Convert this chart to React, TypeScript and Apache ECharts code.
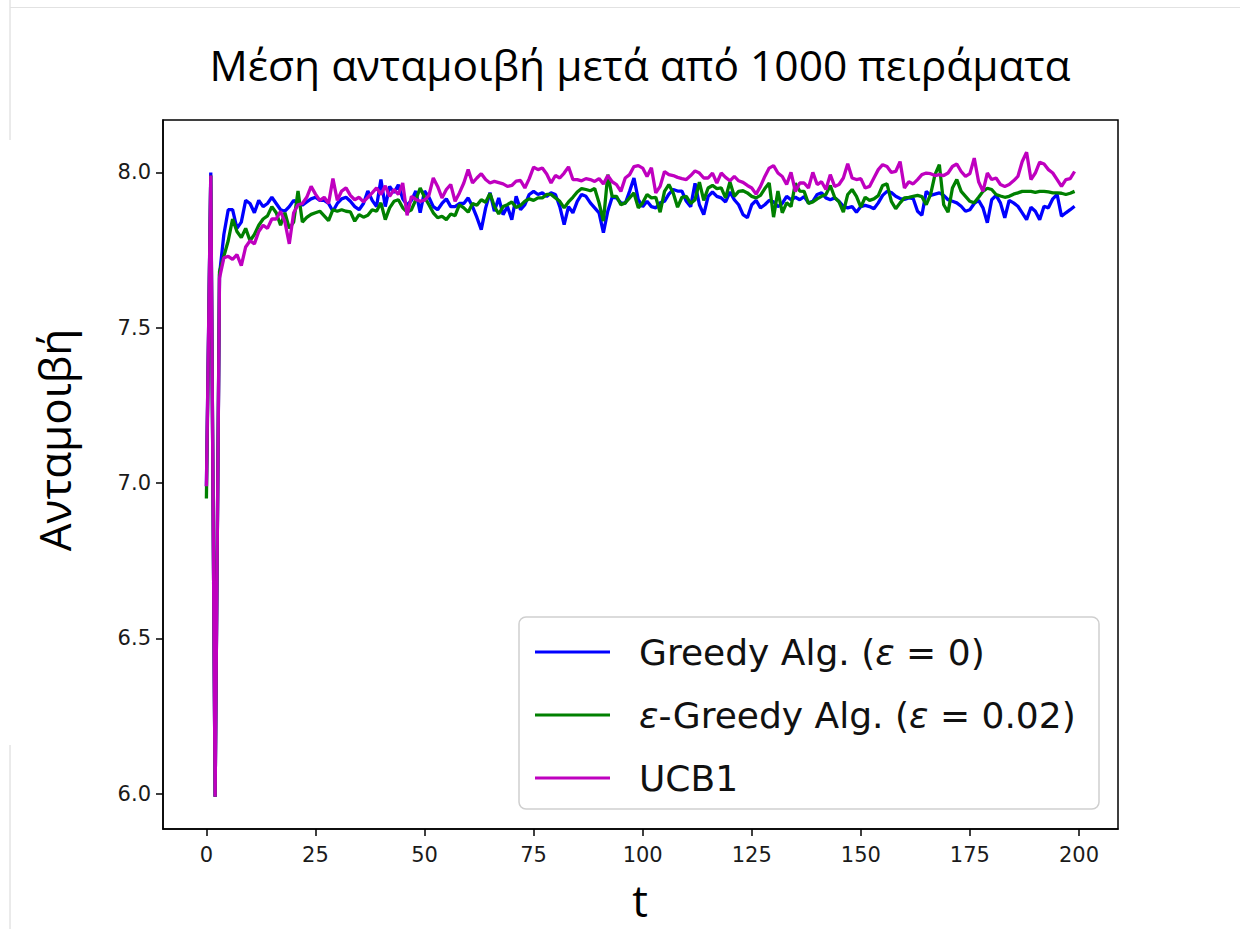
import React, { useEffect, useRef } from "react";
import * as echarts from "echarts";

// Mean reward per step (t = 0..199), averaged over 1000 runs
const greedy: number[] = [
  6.99, 8.0, 5.99, 7.67,
  7.80, 7.88, 7.88, 7.82, 7.84, 7.91, 7.90, 7.87, 7.91, 7.89, 7.90, 7.92, 7.90, 7.88, 7.875, 7.89,
  7.91, 7.90, 7.895, 7.905, 7.915, 7.92, 7.91, 7.91, 7.90, 7.875, 7.90, 7.915, 7.92,
  7.907, 7.89, 7.88, 7.90, 7.94, 7.91, 7.89, 7.977, 7.89, 7.955, 7.935, 7.96, 7.915, 7.895, 7.91,
  7.94, 7.87, 7.94, 7.92, 7.89, 7.88, 7.90, 7.915, 7.89, 7.89, 7.90, 7.90, 7.918, 7.89, 7.855,
  7.816, 7.885, 7.935,
  7.875, 7.918, 7.864, 7.89, 7.848, 7.923, 7.88, 7.896, 7.929, 7.939, 7.929, 7.934, 7.923, 7.934,
  7.929, 7.89, 7.832, 7.89, 7.87, 7.907, 7.929, 7.923, 7.902, 7.886, 7.87, 7.806, 7.875, 7.92,
  7.918, 7.902, 7.90, 7.939, 7.982,
  7.912, 7.89, 7.907, 7.89, 7.886, 7.902, 7.907, 7.93, 7.945, 7.94, 7.94, 7.907, 7.89, 7.965,
  7.896, 7.864, 7.923, 7.937, 7.923, 7.918, 7.905, 7.937, 7.912, 7.896, 7.864, 7.854, 7.896, 7.91,
  7.886, 7.896, 7.91, 7.905, 7.89,
  7.90, 7.923, 7.912, 7.92, 7.912, 7.922, 7.902, 7.907, 7.929, 7.934, 7.918, 7.912, 7.918, 7.907,
  7.891, 7.886, 7.89, 7.872, 7.89, 7.894, 7.89, 7.883, 7.902, 7.926, 7.939, 7.935, 7.923, 7.916,
  7.913, 7.918, 7.916, 7.875, 7.862,
  7.939, 7.926, 7.93, 7.934, 7.926, 7.912, 7.907, 7.902, 7.891, 7.875, 7.88, 7.90, 7.91, 7.886,
  7.838, 7.912, 7.926, 7.902, 7.854, 7.91, 7.902, 7.891, 7.87, 7.848, 7.888, 7.875, 7.848, 7.891,
  7.886, 7.915, 7.929, 7.859, 7.87, 7.88, 7.891,
];

const epsGreedy: number[] = [
  6.95, 7.99, 5.99, 7.68,
  7.73, 7.78, 7.85, 7.81, 7.79, 7.82, 7.78, 7.80, 7.83, 7.85, 7.86, 7.89, 7.87, 7.83, 7.87, 7.82,
  7.84, 7.94, 7.84, 7.855, 7.865, 7.87, 7.875, 7.86, 7.845, 7.88, 7.875, 7.88, 7.875,
  7.873, 7.843, 7.864, 7.856, 7.862, 7.88, 7.875, 7.902, 7.848, 7.886, 7.907, 7.912, 7.886, 7.872,
  7.88, 7.912, 7.95, 7.92, 7.896, 7.87, 7.854, 7.859, 7.848, 7.866, 7.861, 7.896, 7.886, 7.872,
  7.90, 7.894, 7.912, 7.904, 7.932,
  7.891, 7.866, 7.89, 7.896, 7.905, 7.887, 7.894, 7.907, 7.915, 7.91, 7.918, 7.918, 7.929, 7.929,
  7.918, 7.907, 7.886, 7.905, 7.92, 7.937, 7.948, 7.945, 7.941, 7.948, 7.902, 7.843, 7.993, 7.923,
  7.923, 7.896, 7.902, 7.918, 7.934,
  7.886, 7.902, 7.929, 7.918, 7.92, 7.872, 7.939, 7.961, 7.934, 7.888, 7.92, 7.923, 7.90, 7.912,
  7.969, 7.91, 7.95, 7.958, 7.948, 7.95, 7.918, 7.969, 7.923, 7.939, 7.941, 7.934, 7.923, 7.918,
  7.926, 7.948, 7.966, 7.856, 7.94,
  7.87, 7.902, 7.89, 7.965, 7.94, 7.939, 7.90, 7.905, 7.915, 7.923, 7.929, 7.958, 7.92, 7.905,
  7.872, 7.929, 7.945, 7.923, 7.888, 7.92, 7.91, 7.915, 7.925, 7.958, 7.963, 7.907, 7.883, 7.902,
  7.918, 7.92, 7.923, 7.926, 7.922,
  7.896, 7.929, 7.993, 8.025, 7.896, 7.872, 7.95, 7.977, 7.939, 7.923, 7.907, 7.902, 7.92, 7.939,
  7.949, 7.945, 7.929, 7.924, 7.92, 7.923, 7.93, 7.934, 7.939, 7.939, 7.939, 7.936, 7.939, 7.939,
  7.937, 7.934, 7.934, 7.933, 7.929, 7.933, 7.939,
];

const ucb1: number[] = [
  6.99, 7.99, 5.99, 7.66,
  7.725, 7.73, 7.72, 7.735, 7.70, 7.76, 7.78, 7.77, 7.81, 7.83, 7.82, 7.85, 7.85, 7.875, 7.84, 7.77,
  7.87, 7.896, 7.90, 7.92, 7.955, 7.93, 7.91, 7.92, 7.90, 7.98, 7.91, 7.94, 7.95,
  7.926, 7.912, 7.92, 7.905, 7.92, 7.934, 7.95, 7.929, 7.957, 7.923, 7.945, 7.929, 7.966, 7.862,
  7.923, 7.913, 7.907, 7.911, 7.926, 7.982, 7.955, 7.918, 7.945, 7.961, 7.907, 7.934, 7.966, 8.009,
  7.966, 7.982, 7.996, 7.977, 7.966,
  7.971, 7.967, 7.963, 7.955, 7.958, 7.972, 7.974, 7.95, 7.98, 8.017, 8.009, 8.014, 7.995, 7.966,
  7.99, 7.982, 7.998, 8.018, 7.977, 7.977, 7.973, 7.98, 7.977, 7.971, 7.98, 7.963, 7.99, 7.97,
  7.961, 7.939, 7.982, 7.993, 8.019,
  8.022, 8.014, 7.987, 8.015, 7.934, 7.955, 8.003, 7.993, 7.99, 7.984, 7.98, 7.977, 7.99, 8.005,
  7.998, 7.982, 7.982, 7.998, 7.966, 7.998, 7.984, 7.973, 7.987, 7.973, 7.968, 7.958, 7.95, 7.93,
  7.955, 7.987, 8.014, 8.022, 7.998,
  7.987, 7.961, 8.0, 7.939, 7.966, 7.966, 7.95, 8.0, 7.961, 7.97, 7.945, 7.993, 7.955, 7.961,
  7.982, 8.028, 7.982, 7.977, 7.98, 7.95, 7.955, 7.982, 8.009, 8.025, 8.019, 8.0, 8.003, 8.035,
  7.95, 7.97, 7.963, 7.977, 7.993,
  7.998, 7.996, 7.99, 7.993, 7.99, 7.998, 8.019, 8.027, 8.003, 7.987, 7.996, 8.046, 7.97, 7.939,
  7.998, 7.977, 7.982, 7.961, 7.955, 7.961, 7.973, 7.987, 8.035, 8.065, 7.977, 7.998, 8.033, 8.027,
  8.009, 7.998, 7.977, 7.955, 7.977, 7.98, 8.003,
];

const seriesNames = ["Greedy Alg. (ε = 0)", "ε-Greedy Alg. (ε = 0.02)", "UCB1"];
const seriesColors = ["#0000ff", "#008000", "#bf00bf"];
const xTicks = [0, 25, 50, 75, 100, 125, 150, 175, 200];
const yTicks = [6.0, 6.5, 7.0, 7.5, 8.0];

const titleText = "Μέση ανταμοιβή μετά από 1000 πειράματα";
const xName = "t";
const yName = "Ανταμοιβή";

// Legend labels with the epsilon set in italic, mathtext style
const legendRich: Record<string, string> = {
  [seriesNames[0]]: "{n|Greedy Alg. (}{i|ε}{n| = 0)}",
  [seriesNames[1]]: "{i|ε}{n|-Greedy Alg. (}{i|ε}{n| = 0.02)}",
  [seriesNames[2]]: "{n|UCB1}",
};

function toPairs(values: number[]): [number, number][] {
  return values.map((v, i) => [i, v]);
}

export default function App() {
  const ref = useRef<HTMLDivElement>(null);

  useEffect(() => {
    if (!ref.current) return;
    const chart = echarts.init(ref.current, undefined, { renderer: "svg" });

    const all = [...greedy, ...epsGreedy, ...ucb1];
    const dMin = Math.min(...all);
    const dMax = Math.max(...all);
    const pad = (dMax - dMin) * 0.05;
    const n = greedy.length;
    const xPad = (n - 1) * 0.05;

    const tickFont = { fontFamily: "DejaVu Sans", fontSize: 21, color: "#1a1a1a" };
    const legendFont = { fontFamily: "DejaVu Sans", fontSize: 36, color: "#111" };

    chart.setOption({
      animation: false,
      backgroundColor: "#ffffff",
      grid: {
        left: 163,
        top: 120,
        width: 955,
        height: 709,
        containLabel: false,
        outerBoundsMode: "none",
        show: true,
        borderColor: "#000",
        borderWidth: 1.5,
        backgroundColor: "#fff",
      },
      xAxis: {
        type: "value",
        min: -xPad,
        max: n - 1 + xPad,
        splitLine: { show: false },
        axisLine: { show: true, onZero: false, lineStyle: { color: "#000", width: 1.5 } },
        axisTick: {
          show: true,
          length: 7,
          customValues: xTicks,
          lineStyle: { color: "#000", width: 1.5 },
        },
        axisLabel: { customValues: xTicks, margin: 15, ...tickFont },
      },
      yAxis: {
        type: "value",
        min: dMin - pad,
        max: dMax + pad,
        splitLine: { show: false },
        axisLine: { show: true, onZero: false, lineStyle: { color: "#000", width: 1.5 } },
        axisTick: {
          show: true,
          length: 7,
          customValues: yTicks,
          lineStyle: { color: "#000", width: 1.5 },
        },
        axisLabel: {
          customValues: yTicks,
          margin: 12,
          formatter: (v: number) => v.toFixed(1),
          ...tickFont,
        },
      },
      legend: {
        orient: "vertical",
        left: 535,
        top: 631,
        padding: 0,
        z: 20,
        icon: "rect",
        itemWidth: 75,
        itemHeight: 3,
        itemGap: 21,
        data: seriesNames,
        formatter: (name: string) => legendRich[name] ?? name,
        textStyle: {
          ...legendFont,
          lineHeight: 42,
          padding: [0, 0, 0, 24],
          rich: {
            n: { ...legendFont, lineHeight: 42 },
            i: { ...legendFont, fontStyle: "italic", lineHeight: 42 },
          },
        },
      },
      graphic: [
        {
          type: "line",
          shape: { x1: 10, y1: 0, x2: 10, y2: 140 },
          style: { stroke: "#d6d6d6", lineWidth: 1 },
        },
        {
          type: "line",
          shape: { x1: 10, y1: 745, x2: 10, y2: 929 },
          style: { stroke: "#d6d6d6", lineWidth: 1 },
        },
        {
          type: "line",
          shape: { x1: 10, y1: 7.5, x2: 1240, y2: 7.5 },
          style: { stroke: "#e2e2e2", lineWidth: 1 },
        },
        {
          type: "text",
          x: 640,
          y: 64,
          style: {
            text: titleText,
            textAlign: "center",
            textVerticalAlign: "middle",
            fontFamily: "Open Sans",
            fontSize: 42.5,
            fill: "#000",
          },
        },
        {
          type: "text",
          x: 640,
          y: 900,
          style: {
            text: xName,
            textAlign: "center",
            textVerticalAlign: "middle",
            fontFamily: "Open Sans",
            fontSize: 44,
            fill: "#000",
          },
        },
        {
          type: "text",
          x: 54,
          y: 440,
          rotation: Math.PI / 2,
          style: {
            text: yName,
            textAlign: "center",
            textVerticalAlign: "middle",
            fontFamily: "Open Sans",
            fontSize: 44,
            fill: "#000",
          },
        },
        {
          type: "rect",
          z: 10,
          shape: { x: 519, y: 617, width: 580, height: 192, r: 7 },
          style: { fill: "rgba(255,255,255,0.85)", stroke: "#cfcfcf", lineWidth: 1.5 },
        },
      ],
      series: [greedy, epsGreedy, ucb1].map((values, k) => ({
        name: seriesNames[k],
        type: "line",
        data: toPairs(values),
        showSymbol: false,
        symbol: "none",
        color: seriesColors[k],
        lineStyle: { color: seriesColors[k], width: 3.3 },
        z: 2 + k,
      })),
    });

    return () => chart.dispose();
  }, []);

  return (
    <div
      ref={ref}
      style={{ position: "fixed", left: 0, top: 0, width: 1240, height: 929, background: "#fff" }}
    />
  );
}
